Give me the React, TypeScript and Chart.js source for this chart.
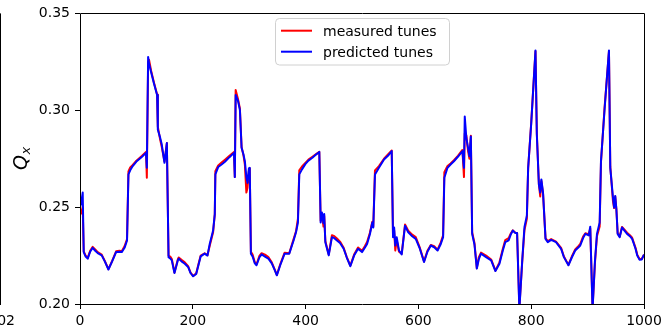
import React, { useEffect, useRef } from "react";
import { Chart, registerables } from "chart.js";

Chart.register(...registerables);

const X_VALUES = [
  0, 2, 4.8, 6.6, 10, 13.7, 18, 22.5, 27, 31.4,
  38.5, 44, 50.4, 57, 64, 70, 74, 79, 83.4, 85.9,
  89, 93.5, 100, 110, 117, 118.5, 120.8, 122.5, 126, 131,
  136.7, 138, 142, 145, 149.8, 154, 157, 160, 162.8, 167.5,
  173.4, 175, 180, 185.8, 191.7, 196, 200.6, 206, 210, 214,
  221, 226, 230, 236, 239, 240, 245, 251, 257, 265,
  273, 274.5, 276, 280, 283.5, 286.5, 290, 292.3, 295, 297,
  299.5, 301, 303, 306, 310, 313, 318, 322, 328, 334,
  340, 345.5, 349, 355, 362.8, 371, 378.7, 383, 386.4, 388.8,
  393.6, 399.5, 405, 412, 418, 424.3, 426.7, 429, 431.7, 433,
  435, 441, 446.7, 451, 455.6, 461, 467.5, 473, 479.3, 486,
  493, 500, 505, 509, 514, 518.3, 520, 523, 530, 539,
  546, 552.7, 555, 557, 559, 561.5, 565.6, 570.4, 576.3, 582,
  589, 595.3, 602, 610, 616, 622, 628, 634, 639.7, 643.8,
  646, 651.6, 657, 663, 670, 678, 680.8, 682.2, 685, 688,
  690.5, 693, 695.3, 699.4, 703.6, 707, 711, 720, 729, 736.6,
  743.7, 749.7, 754, 760, 764, 767.4, 772, 775, 779, 784,
  788, 792.3, 794.6, 800, 807.6, 810, 813.6, 816, 818, 821,
  825.4, 829.4, 835.4, 844, 853, 858, 866, 872, 878, 884,
  887, 892, 896, 902, 904.7, 908.8, 913, 916.6, 921.4, 923.7,
  930, 937.9, 940.2, 945, 947, 949, 951, 953.3, 956.9, 961,
  965, 970, 975, 979, 985, 988, 992, 996, 1000,
];

const PREDICTED = [
  0.250, 0.252, 0.2575, 0.2268, 0.2245, 0.2234, 0.227, 0.229, 0.2275, 0.2263,
  0.2251, 0.222, 0.2178, 0.222, 0.2268, 0.227, 0.2268, 0.229, 0.2328, 0.2669,
  0.269, 0.2712, 0.2735, 0.276, 0.278, 0.2703, 0.3275, 0.3240, 0.3198, 0.314,
  0.3079, 0.290, 0.286, 0.2823, 0.2729, 0.2831, 0.2242, 0.2235, 0.2225, 0.216,
  0.2225, 0.2234, 0.222, 0.2208, 0.2191, 0.216, 0.2143, 0.2155, 0.220, 0.2246,
  0.226, 0.225, 0.231, 0.2379, 0.2464, 0.2669, 0.2707, 0.272, 0.2734, 0.2758,
  0.278, 0.2655, 0.3079, 0.305, 0.3002, 0.2806, 0.277, 0.2737, 0.2655, 0.2625,
  0.270, 0.2703, 0.226, 0.2245, 0.221, 0.220, 0.224, 0.2256, 0.2245, 0.2234,
  0.221, 0.2174, 0.2148, 0.220, 0.226, 0.226, 0.2328, 0.237, 0.2421, 0.2669,
  0.2695, 0.2722, 0.274, 0.2755, 0.277, 0.2785, 0.2421, 0.2472, 0.2418, 0.2464,
  0.2319, 0.2251, 0.2345, 0.234, 0.2328, 0.2315, 0.2285, 0.224, 0.2195, 0.225,
  0.2285, 0.2268, 0.229, 0.231, 0.236, 0.2421, 0.2395, 0.2669, 0.2703, 0.2746,
  0.2765, 0.2789, 0.2345, 0.2395, 0.2302, 0.2345, 0.2276, 0.2256, 0.2404, 0.237,
  0.235, 0.2336, 0.229, 0.2217, 0.227, 0.2302, 0.2293, 0.2276, 0.231, 0.2345,
  0.2652, 0.2703, 0.272, 0.2737, 0.276, 0.2789, 0.2703, 0.2968, 0.2857, 0.2806,
  0.2763, 0.2865, 0.2362, 0.2307, 0.2183, 0.223, 0.226, 0.2242, 0.2225, 0.217,
  0.2208, 0.2276, 0.2319, 0.2328, 0.236, 0.2379, 0.2366, 0.2366, 0.197, 0.222,
  0.2396, 0.2456, 0.2703, 0.293, 0.3309, 0.2874, 0.2618, 0.2575, 0.2643, 0.2575,
  0.2336, 0.2319, 0.2331, 0.2319, 0.2285, 0.2242, 0.220, 0.224, 0.2276, 0.2293,
  0.2302, 0.234, 0.2362, 0.2354, 0.2399, 0.197, 0.222, 0.2362, 0.2421, 0.2737,
  0.300, 0.3309, 0.2703, 0.2549, 0.2498, 0.2558, 0.249, 0.2362, 0.2345, 0.2395,
  0.238, 0.2362, 0.235, 0.2336, 0.2285, 0.225, 0.2229, 0.223, 0.2255,
];

const MEASURED = [
  0.246, 0.247, 0.250, 0.2272, 0.2250, 0.2238, 0.2275, 0.2295, 0.2282, 0.2268,
  0.2255, 0.2222, 0.2180, 0.2222, 0.2272, 0.2275, 0.2272, 0.2298, 0.2335, 0.2685,
  0.2705, 0.2718, 0.2740, 0.2765, 0.2785, 0.2652, 0.3250, 0.3260, 0.3205, 0.3145,
  0.3082, 0.2915, 0.2850, 0.2810, 0.2735, 0.2831, 0.2250, 0.2245, 0.2232, 0.2162,
  0.2230, 0.2240, 0.2228, 0.2215, 0.2195, 0.2162, 0.2145, 0.2158, 0.2205, 0.2250,
  0.2262, 0.2252, 0.2300, 0.2370, 0.2464, 0.2685, 0.2715, 0.2730, 0.2745, 0.2765,
  0.2785, 0.2655, 0.3104, 0.3060, 0.3010, 0.2810, 0.2765, 0.2720, 0.2575, 0.2600,
  0.2690, 0.2700, 0.2270, 0.2255, 0.2215, 0.2205, 0.2248, 0.2262, 0.2255, 0.2242,
  0.2215, 0.2176, 0.2150, 0.2205, 0.2265, 0.2262, 0.2335, 0.2375, 0.2440, 0.2690,
  0.2710, 0.2728, 0.2745, 0.2760, 0.2772, 0.2785, 0.2430, 0.2460, 0.2400, 0.2455,
  0.2325, 0.2255, 0.2355, 0.2350, 0.2338, 0.2322, 0.2290, 0.2242, 0.2198, 0.2255,
  0.2292, 0.2275, 0.2298, 0.2320, 0.2368, 0.2425, 0.2400, 0.2690, 0.2712, 0.2750,
  0.2772, 0.2792, 0.2350, 0.2380, 0.2276, 0.2330, 0.2270, 0.2260, 0.2410, 0.2378,
  0.2358, 0.2345, 0.2295, 0.2220, 0.2275, 0.2305, 0.2298, 0.2280, 0.2318, 0.2355,
  0.2680, 0.2712, 0.2725, 0.2742, 0.2765, 0.2795, 0.2655, 0.2880, 0.2870, 0.2790,
  0.2750, 0.2868, 0.2370, 0.2315, 0.2185, 0.2240, 0.2265, 0.2250, 0.2230, 0.2172,
  0.2215, 0.2285, 0.2330, 0.2340, 0.2365, 0.2380, 0.2368, 0.2366, 0.198, 0.2215,
  0.2380, 0.2440, 0.2700, 0.2935, 0.3305, 0.2880, 0.2620, 0.2555, 0.2635, 0.2570,
  0.2340, 0.2325, 0.2335, 0.2322, 0.2290, 0.2245, 0.2202, 0.2245, 0.2282, 0.2300,
  0.2310, 0.2348, 0.2365, 0.2360, 0.2390, 0.198, 0.2210, 0.2350, 0.2400, 0.2730,
  0.3010, 0.3305, 0.2710, 0.2530, 0.2495, 0.2555, 0.2490, 0.2365, 0.2348, 0.2398,
  0.2385, 0.2368, 0.2355, 0.2342, 0.2290, 0.2255, 0.2232, 0.2232, 0.2255,
];

const X_TICKS = [0, 200, 400, 600, 800, 1000];
const Y_TICKS = [0.2, 0.25, 0.3, 0.35];
const SERIES_LABELS = ["measured tunes", "predicted tunes"];
const SERIES_COLORS = ["#ff0000", "#0000ff"];
const Y_LABEL_MAIN = "Q";
const Y_LABEL_SUB = "x";
const EDGE_LABEL = "02";

const FONT = "'DejaVu Sans', sans-serif";

export default function App() {
  const ref = useRef<HTMLCanvasElement>(null);

  useEffect(() => {
    document.body.style.margin = "0";
    const canvas = ref.current;
    if (!canvas) return;

    const decorations = {
      id: "decorations",
      afterDatasetsDraw(chart: any) {
        const { ctx, chartArea: a } = chart;
        ctx.save();
        ctx.strokeStyle = "#000";
        ctx.lineWidth = 1;
        ctx.beginPath();
        ctx.rect(Math.round(a.left) + 0.5, Math.round(a.top) + 0.5,
          Math.round(a.right) - Math.round(a.left), Math.round(a.bottom) - Math.round(a.top));
        ctx.stroke();
        ctx.restore();
      },
      afterDraw(chart: any) {
        const { ctx, chartArea: a } = chart;
        ctx.save();
        // y-axis label
        const cy = (a.top + a.bottom) / 2;
        ctx.translate(26.5, cy);
        ctx.rotate(-Math.PI / 2);
        ctx.fillStyle = "#000";
        ctx.textBaseline = "alphabetic";
        ctx.textAlign = "left";
        ctx.font = `oblique 19px ${FONT}`;
        const qW = ctx.measureText(Y_LABEL_MAIN).width;
        ctx.font = `oblique 13px ${FONT}`;
        const xW = ctx.measureText(Y_LABEL_SUB).width;
        const start = -(qW + xW) / 2;
        ctx.font = `oblique 19px ${FONT}`;
        ctx.fillText(Y_LABEL_MAIN, start, 0);
        ctx.font = `oblique 13px ${FONT}`;
        ctx.fillText(Y_LABEL_SUB, start + qW + 0.5, 3);
        ctx.restore();

        // legend
        ctx.save();
        const bx = 275.5, by = 18.5, bw = 174, bh = 46.5;
        ctx.beginPath();
        (ctx as any).roundRect(bx, by, bw, bh, 4);
        ctx.fillStyle = "rgba(255,255,255,0.8)";
        ctx.fill();
        ctx.strokeStyle = "#d0d0d0";
        ctx.lineWidth = 1;
        ctx.stroke();
        const rows = [30.7, 51.7];
        SERIES_LABELS.forEach((lab, i) => {
          ctx.strokeStyle = SERIES_COLORS[i];
          ctx.lineWidth = 2;
          ctx.beginPath();
          ctx.moveTo(281, rows[i]);
          ctx.lineTo(312, rows[i]);
          ctx.stroke();
          ctx.fillStyle = "#000";
          ctx.font = `14px ${FONT}`;
          ctx.textAlign = "left";
          ctx.textBaseline = "alphabetic";
          ctx.fillText(lab, 323, rows[i] + 5.6);
        });
        ctx.restore();

        // edge of neighbouring panel
        ctx.save();
        ctx.strokeStyle = "#000";
        ctx.lineWidth = 1;
        ctx.beginPath();
        ctx.moveTo(0.5, a.top);
        ctx.lineTo(0.5, a.bottom + 1);
        ctx.stroke();
        ctx.fillStyle = "#000";
        ctx.font = `14px ${FONT}`;
        ctx.textAlign = "right";
        ctx.textBaseline = "alphabetic";
        ctx.fillText(EDGE_LABEL, 15, 325);
        ctx.restore();
      },
    };

    const chart = new Chart(canvas, {
      type: "line",
      data: {
        datasets: [
          {
            label: SERIES_LABELS[0],
            data: X_VALUES.map((x, i) => ({ x, y: MEASURED[i] })),
            borderColor: SERIES_COLORS[0],
            borderWidth: 2,
            pointRadius: 0,
            tension: 0,
            borderJoinStyle: "round",
            order: 2,
          },
          {
            label: SERIES_LABELS[1],
            data: X_VALUES.map((x, i) => ({ x, y: PREDICTED[i] })),
            borderColor: SERIES_COLORS[1],
            borderWidth: 2,
            pointRadius: 0,
            tension: 0,
            borderJoinStyle: "round",
            order: 1,
          },
        ],
      },
      options: {
        responsive: false,
        animation: false,
        layout: { padding: { top: 11, right: 26, bottom: 0, left: 0 } },
        plugins: {
          legend: { display: false },
          tooltip: { enabled: false },
        },
        scales: {
          x: {
            type: "linear",
            min: 0,
            max: 1000,
            afterFit(scale: any) {
              scale.height = 25;
            },
            afterBuildTicks(scale: any) {
              scale.ticks = X_TICKS.map((v) => ({ value: v }));
            },
            ticks: {
              color: "#000",
              font: { family: FONT, size: 14 },
              padding: 4,
              maxRotation: 0,
              autoSkip: false,
              callback: (v: any) => String(v),
            },
            grid: {
              display: true,
              drawOnChartArea: false,
              drawTicks: true,
              tickLength: 5,
              color: "#000",
            },
            border: { display: false },
          },
          y: {
            type: "linear",
            min: 0.2,
            max: 0.35,
            afterFit(scale: any) {
              scale.width = 80;
            },
            afterBuildTicks(scale: any) {
              scale.ticks = Y_TICKS.map((v) => ({ value: v }));
            },
            ticks: {
              color: "#000",
              font: { family: FONT, size: 14 },
              padding: 5,
              autoSkip: false,
              callback: (v: any) => Number(v).toFixed(2),
            },
            grid: {
              display: true,
              drawOnChartArea: false,
              drawTicks: true,
              tickLength: 5,
              color: "#000",
            },
            border: { display: false },
          },
        },
      },
      plugins: [decorations],
    });

    return () => chart.destroy();
  }, []);

  return (
    <div style={{ position: "absolute", left: 0, top: 0, width: 670, height: 329 }}>
      <canvas ref={ref} width={670} height={329} style={{ display: "block" }} />
    </div>
  );
}
